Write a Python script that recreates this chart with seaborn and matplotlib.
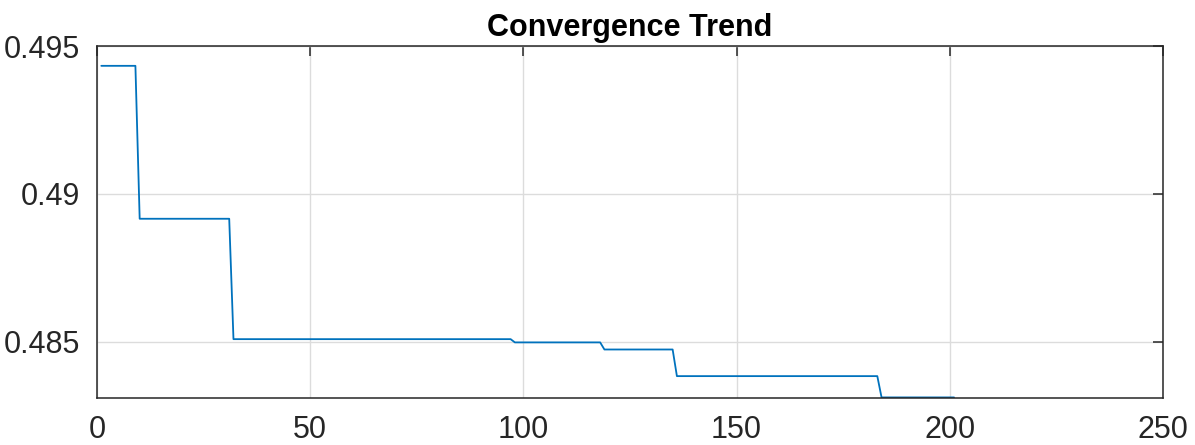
import numpy as np
import pandas as pd
import seaborn as sns
import matplotlib.pyplot as plt

# step levels of the best fitness value, and the iteration where each level ends
level_values = [0.49433, 0.48916, 0.48509, 0.48498, 0.48474, 0.48384, 0.48312]
level_last_iter = [9, 31, 97, 118, 135, 183, 201]

x_ticks = [0, 50, 100, 150, 200, 250]
y_ticks = [0.485, 0.49, 0.495]
y_tick_labels = ["0.485", "0.49", "0.495"]

counts = np.diff([0] + level_last_iter)
fitness = np.repeat(level_values, counts)
df = pd.DataFrame({"iteration": np.arange(1, len(fitness) + 1), "fitness": fitness})

sns.set_style("white")
plt.rcParams["font.family"] = ["Liberation Sans", "DejaVu Sans"]

fig = plt.figure(figsize=(11.95, 4.45), dpi=100)
ax = fig.add_axes([0.0812, 0.1056, 0.892, 0.791])

sns.lineplot(data=df, x="iteration", y="fitness", ax=ax, color="#0072BD", linewidth=1.3)

ax.set_xlim(0, 250)
ax.set_ylim(0.48310, 0.495)
ax.set_xticks(x_ticks)
ax.set_yticks(y_ticks)
ax.set_yticklabels(y_tick_labels)
ax.grid(True, color="#dcdcdc", linewidth=1.0)
ax.set_axisbelow(True)

for s in ax.spines.values():
    s.set_visible(True)
    s.set_color("#262626")
    s.set_linewidth(1.1)

ax.tick_params(direction="in", length=7, width=1.1, color="#262626",
               top=True, right=True, labelsize=22, labelcolor="#262626", pad=12)
ax.tick_params(axis="x", pad=12)
ax.set_xlabel("")
ax.set_ylabel("")
ax.set_title("Convergence Trend", fontsize=22, fontweight="bold", pad=7, color="#000000")

fig.savefig("out.png", dpi=100)
